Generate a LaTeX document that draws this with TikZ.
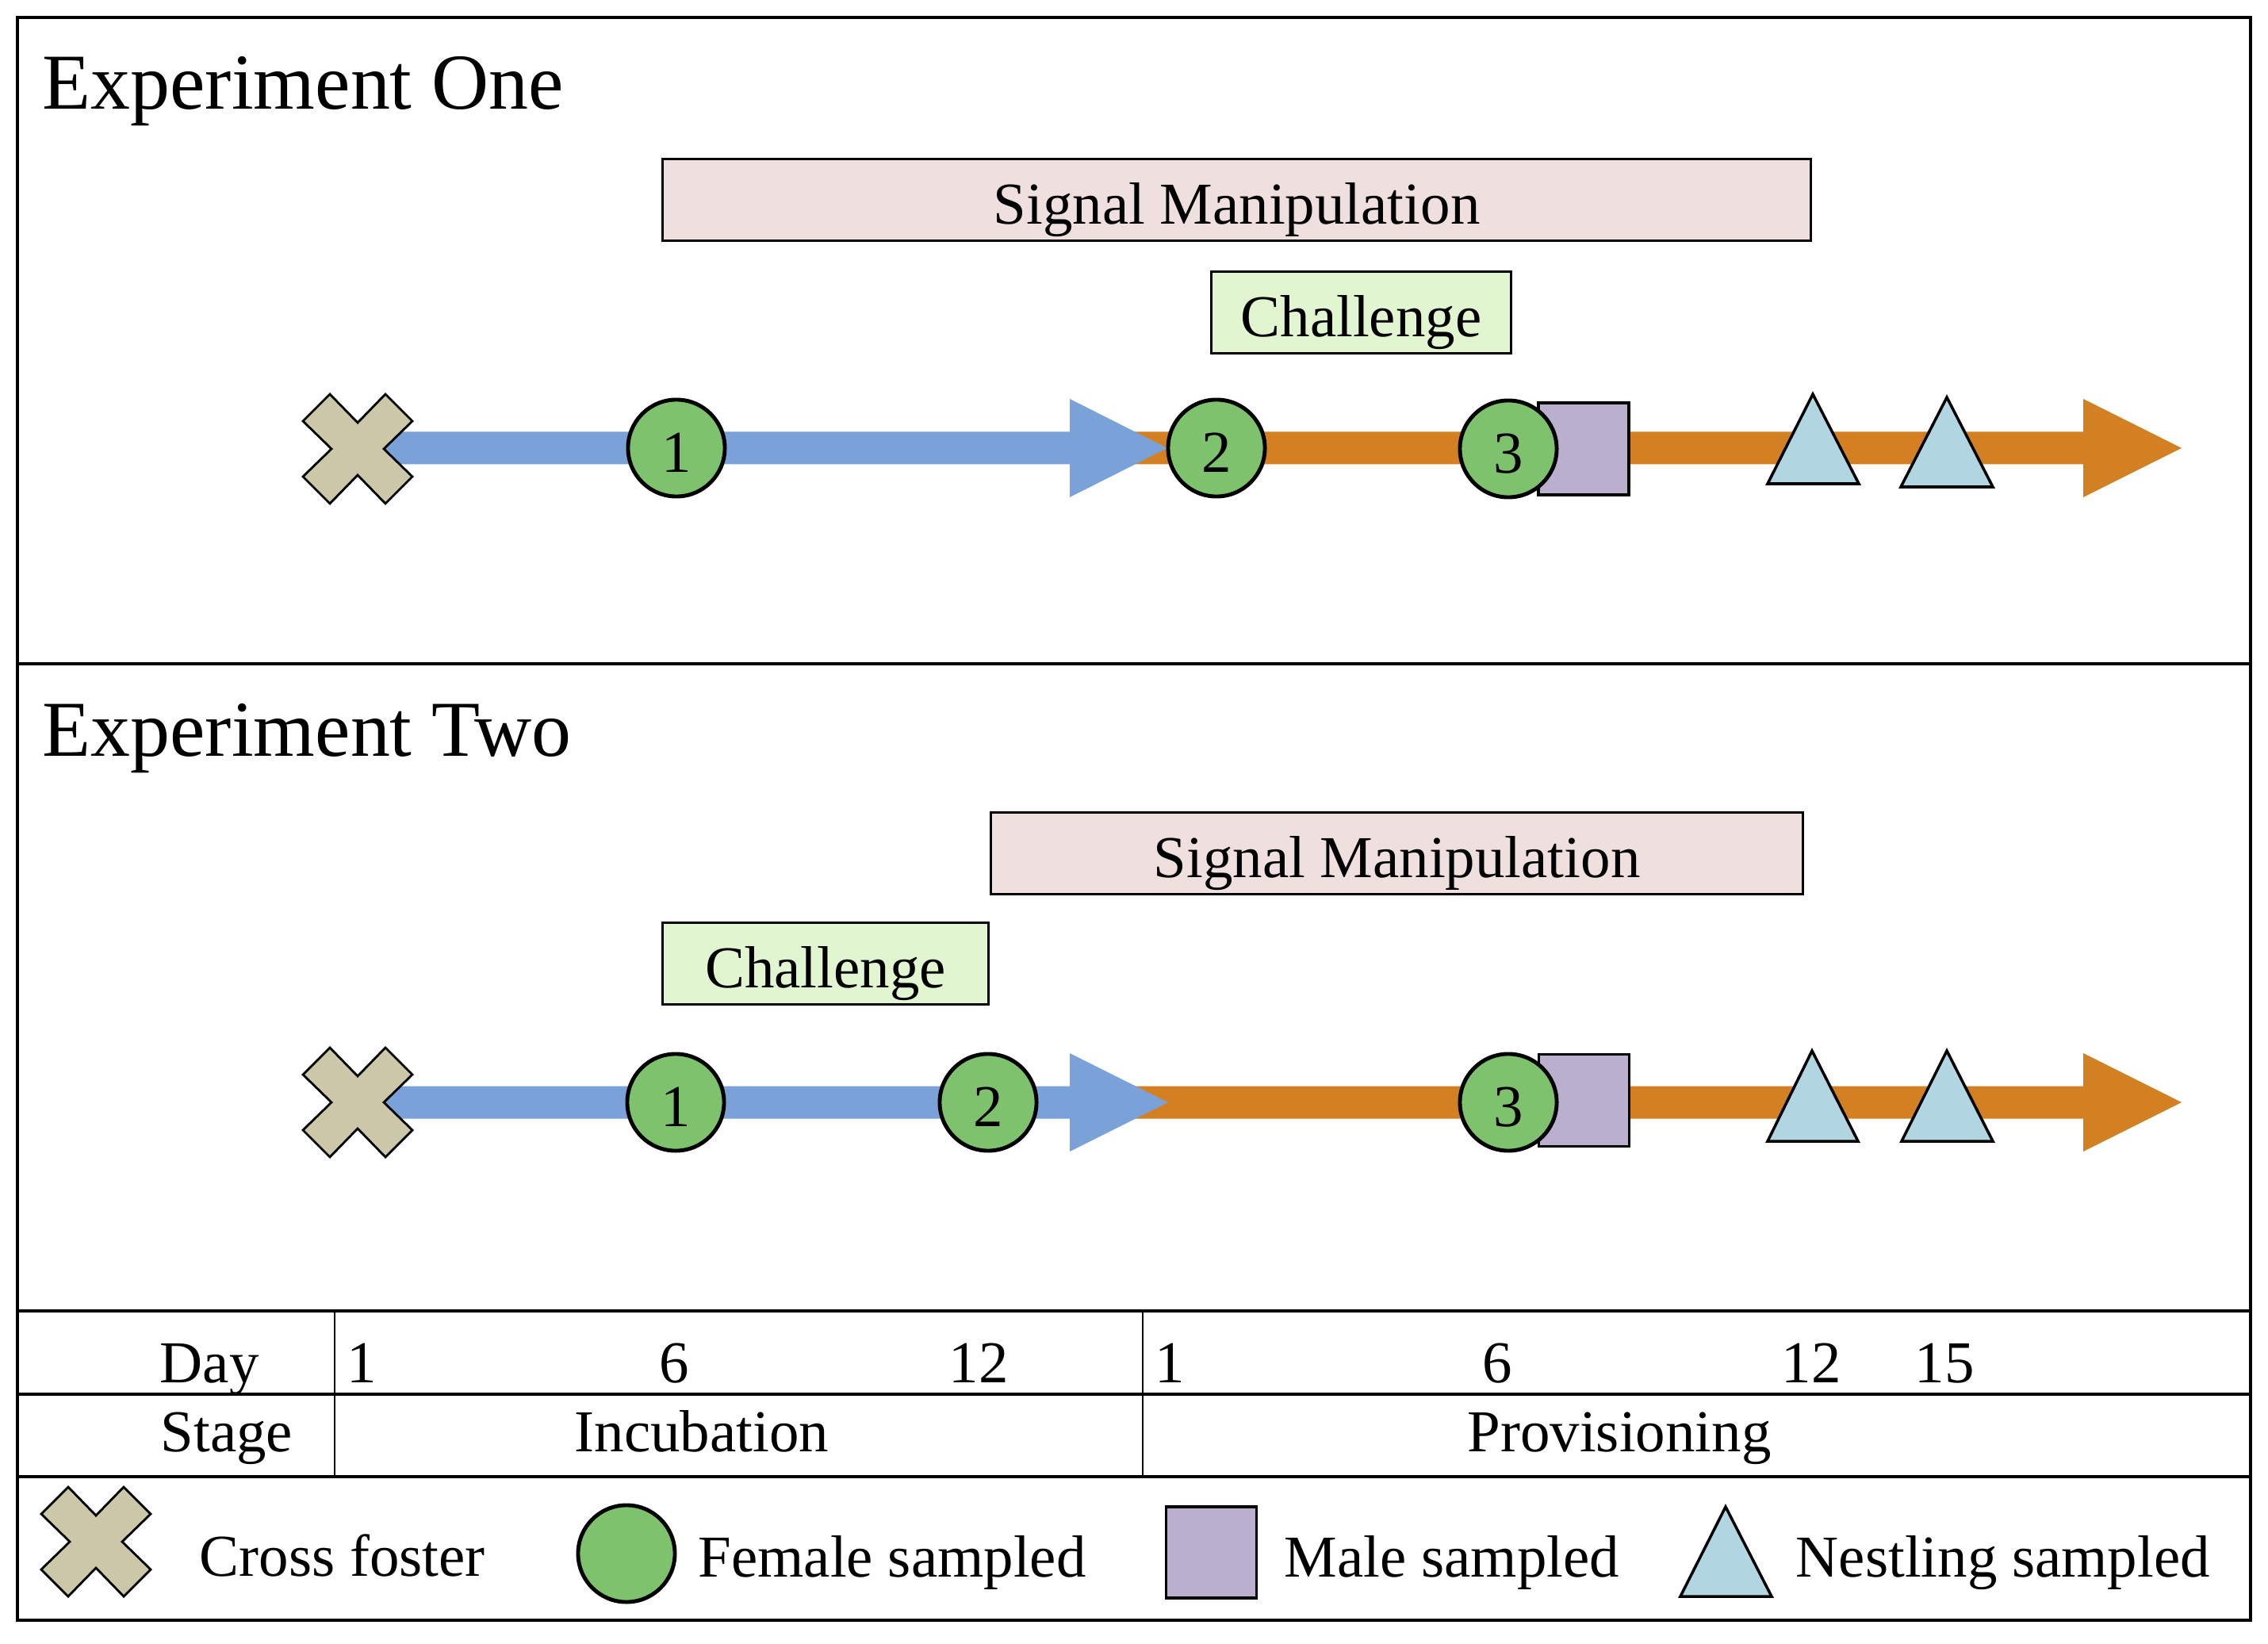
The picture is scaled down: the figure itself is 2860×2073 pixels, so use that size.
\documentclass[tikz,border=0pt]{standalone}
\usepackage{fontspec}
\setmainfont{Liberation Serif}
\definecolor{blueA}{RGB}{122,161,216}
\definecolor{orangeA}{RGB}{211,128,34}
\definecolor{greenA}{RGB}{126,194,110}
\definecolor{crossA}{RGB}{203,199,168}
\definecolor{maleA}{RGB}{186,176,206}
\definecolor{nestA}{RGB}{178,214,225}
\definecolor{sigA}{RGB}{239,223,223}
\definecolor{chalA}{RGB}{226,245,209}
\tikzset{
  framel/.style={line width=1.3pt},
  thinl/.style={line width=0.75pt},
  fem/.style={circle, draw, fill=greenA, line width=1.4pt, minimum size=1.22cm, inner sep=0pt, text height=0.6cm, text depth=0pt},
  male/.style={rectangle, draw, fill=maleA, line width=1.1pt, minimum width=1.14cm, minimum height=1.16cm, inner sep=0pt},
  labelbox/.style={rectangle, draw, line width=0.85pt, inner sep=0pt, text height=0.6cm, text depth=0pt, minimum height=1.03cm},
  sig/.style={labelbox, fill=sigA},
  chal/.style={labelbox, fill=chalA},
  tri/.style={draw, fill=nestA, line width=1pt, line join=miter},
  crossst/.style={draw, fill=crossA, line width=0.8pt, line join=miter},
  txt/.style={inner sep=0pt, anchor=base west},
  num/.style={inner sep=0pt, anchor=base},
  title/.style={inner sep=0pt, anchor=base west, font=\fontsize{28.4}{32}\selectfont},
  xcross/.pic={\path[crossst] (-35,-69) -- (0,-33) -- (35,-69) -- (69,-35) -- (33,0) -- (69,35) -- (35,69) -- (0,33) -- (-35,69) -- (-69,35) -- (-33,0) -- (-69,-35) -- cycle;},
}
\begin{document}
\begin{tikzpicture}[x=0.01cm, y=-0.01cm, font=\fontsize{21.3}{25}\selectfont]
\useasboundingbox (0,0) rectangle (2860,2073);

% ---------- Experiment One ----------
\node[title] (t1) at (53,138) {Experiment One};
\node[sig, minimum width=14.48cm] (sm1) at (1559.5,252) {Signal Manipulation};
\node[chal, minimum width=3.78cm] (ch1) at (1716.5,394) {Challenge};

\coordinate (o1s) at (1349,565);
\coordinate (b1s) at (451,565);
\fill[orangeA] (o1s) ++(0,-20.5) -- (2627,544.5) -- (2627,503) -- (2751,565) -- (2627,627) -- (2627,585.5) -- (1349,585.5) -- cycle;
\fill[blueA] (b1s) ++(0,-20.5) -- (1349,544.5) -- (1349,503) -- (1472,565) -- (1349,627) -- (1349,585.5) -- (451,585.5) -- cycle;

\pic (x1) at (451,566) {xcross};
\node[male] (m1) at (1997,566) {};
\node[fem] (f11) at (853,565) {1};
\node[fem] (f12) at (1534,565) {2};
\node[fem] (f13) at (1902,566) {3};
\path[tri] (2286,497) -- (2344,610) -- (2229,610) -- cycle;
\path[tri] (2455,501) -- (2513,614) -- (2397,614) -- cycle;

% ---------- Experiment Two ----------
\node[title] (t2) at (53,953) {Experiment Two};
\node[sig, minimum width=10.24cm] (sm2) at (1761.5,1076) {Signal Manipulation};
\node[chal, minimum width=4.11cm] (ch2) at (1041,1215) {Challenge};

\coordinate (o2s) at (1349,1390);
\coordinate (b2s) at (451,1390);
\fill[orangeA] (o2s) ++(0,-20.5) -- (2627,1369.5) -- (2627,1328) -- (2751,1390) -- (2627,1452) -- (2627,1410.5) -- (1349,1410.5) -- cycle;
\fill[blueA] (b2s) ++(0,-20.5) -- (1349,1369.5) -- (1349,1328) -- (1473,1390) -- (1349,1452) -- (1349,1410.5) -- (451,1410.5) -- cycle;

\pic (x2) at (451,1390) {xcross};
\node[male] (m2) at (1997.5,1387.5) {};
\node[fem] (f21) at (852,1390) {1};
\node[fem] (f22) at (1246,1390) {2};
\node[fem] (f23) at (1902,1390) {3};
\path[tri] (2285,1325) -- (2343,1439) -- (2229,1439) -- cycle;
\path[tri] (2455,1325) -- (2513,1439) -- (2398,1439) -- cycle;

% ---------- Frame and table ----------
\draw[framel] (22,22) rectangle (2838,2043);
\draw[framel] (22,837) -- (2838,837);
\draw[framel] (22,1653) -- (2838,1653);
\draw[framel] (22,1758) -- (2838,1758);
\draw[framel] (22,1862) -- (2838,1862);
\draw[thinl] (422,1653) -- (422,1862);
\draw[thinl] (1441,1653) -- (1441,1862);

\node[txt] (day) at (201,1743) {Day};
\node[txt] (stage) at (202,1830) {Stage};
\node[num] (d1) at (456,1743) {1};
\node[num] (d6) at (850,1743) {6};
\node[num] (d12) at (1234,1743) {12};
\node[num] (p1) at (1475,1743) {1};
\node[num] (p6) at (1888,1743) {6};
\node[num] (p12) at (2284,1743) {12};
\node[num] (p15) at (2452,1743) {15};
\node[num] (inc) at (885,1830) {Incubation};
\node[num] (prov) at (2042,1830) {Provisioning};

% ---------- Legend ----------
\pic (lx) at (121,1944) {xcross};
\node[txt] (lxt) at (251,1987) {Cross foster};
\node[fem] (lf) at (790,1959) {};
\node[txt] (lft) at (880,1988) {Female sampled};
\node[male, minimum height=1.15cm] (lm) at (1527.5,1957.5) {};
\node[txt] (lmt) at (1619,1988) {Male sampled};
\path[tri] (2176,1900) -- (2234,2013) -- (2119,2013) -- cycle;
\node[txt] (ltt) at (2264,1988) {Nestling sampled};
\end{tikzpicture}
\end{document}
